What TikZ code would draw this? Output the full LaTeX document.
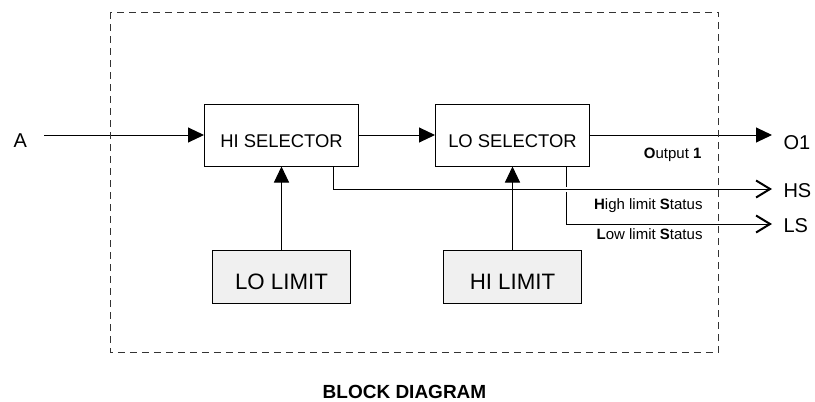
\documentclass[tikz,border=0pt]{standalone}
\usepackage{fontspec}
\setmainfont{Liberation Sans}
\usetikzlibrary{positioning,arrows.meta}
\definecolor{Gfill}{RGB}{240,240,240}

\begin{document}
\begin{tikzpicture}[x=1pt,y=-1pt,line width=1pt,
  selbox/.style={draw,minimum width=154pt,minimum height=62pt,inner sep=0pt,text height=25pt,text depth=0pt,font=\fontsize{18.4}{20}\selectfont},
  limbox/.style={draw,fill=Gfill,minimum width=138pt,minimum height=53pt,inner sep=0pt,text height=25pt,text depth=0pt,font=\fontsize{22.3}{24}\selectfont},
  sig/.style={anchor=base west,inner sep=0pt,font=\fontsize{20}{22}\selectfont},
  note/.style={anchor=base east,inner sep=0pt,font=\fontsize{15}{16}\selectfont},
  fwd/.style={-{Triangle[length=16pt,width=15pt]}},
  barb/.style={-{Straight Barb[length=14pt,width=17pt,line width=2pt]}},
  bridge/.style={preaction={draw=white,line width=5pt}}]
\path[use as bounding box] (0,0) rectangle (815,402);
% blocks
\node[selbox] (hisel) at (281.5,135) {HI SELECTOR};
\node[selbox,right=76pt of hisel] (losel) {LO SELECTOR};
\node[limbox,below=83pt of hisel] (lolim) {LO LIMIT};
\node[limbox,below=83pt of losel] (hilim) {HI LIMIT};
% signal ends
\coordinate (inA) at (44,135);
\coordinate (o1tip) at (772,135);
\coordinate (hstip) at (772,189);
\coordinate (lstip) at (772,224);
\node[sig] (A) at (13,147) {A};
\node[sig] (O1) at (783,149.5) {O1};
\node[sig] (HS) at (783,197) {HS};
\node[sig] (LS) at (783,232) {LS};
\node[note] (outnote) at (702,158.5) {\textbf{O}utput \textbf{1}};
\node[note] (hsnote) at (703,209.5) {\textbf{H}igh limit \textbf{S}tatus};
\node[note] (lsnote) at (703,239.5) {\textbf{L}ow limit \textbf{S}tatus};
\node[anchor=base,inner sep=0pt,font=\bfseries\fontsize{19}{20}\selectfont] (title) at (404.5,398.5) {BLOCK DIAGRAM};
% connectors
\draw[fwd] (inA) -- (hisel);
\draw[fwd] (hisel) -- (losel);
\draw[fwd] (losel) -- (o1tip);
\draw[barb] ([xshift=53.5pt]losel.south) |- (lstip);
\draw[barb,bridge] ([xshift=51.5pt]hisel.south) |- (hstip);
\draw[fwd] (lolim) -- (hisel);
\draw[fwd] (hilim) -- (losel);
% frame
\draw[dash pattern=on 7pt off 5pt,line width=0.8pt,draw=black!80] (110.5,12) rectangle (718.3,352.7);
\end{tikzpicture}
\end{document}
